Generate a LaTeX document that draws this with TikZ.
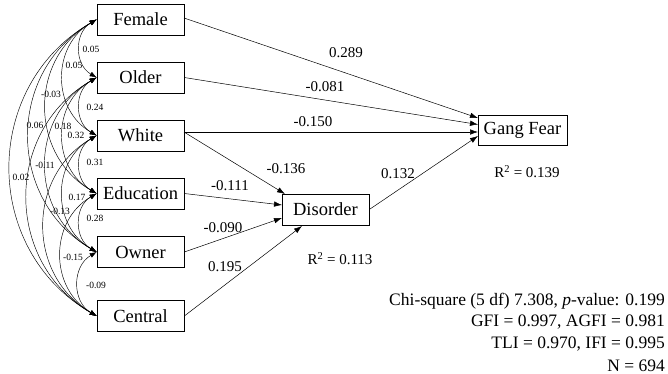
\documentclass[tikz,border=0pt]{standalone}
\usepackage{fontspec}
\setmainfont{Liberation Serif}
\usetikzlibrary{arrows.meta}
\begin{document}
\begin{tikzpicture}[x=1pt,y=-1pt,
  var/.style={draw, line width=0.6pt, minimum width=87pt, minimum height=31pt,
    inner sep=0pt, font=\fontsize{18.5}{20}\selectfont},
  effect/.style={-{Latex[length=8pt,width=5.5pt]}, line width=0.5pt},
  cov/.style={{Latex[length=7pt,width=5pt]}-{Latex[length=7pt,width=5pt]},
    line width=0.45pt, bend right=60, looseness=1.15},
  coef/.style={font=\fontsize{15}{17}\selectfont, inner sep=0pt},
  corr/.style={font=\fontsize{9.5}{11}\selectfont, inner sep=0pt},
  fit/.style={font=\fontsize{17.5}{20}\selectfont, inner sep=0pt, anchor=east}]
\useasboundingbox (0,0) rectangle (668,374);

% exogenous variables
\node[var] (fem) at (140.5,19.5) {Female};
\node[var] (old) at (140.5,77.5) {Older};
\node[var] (wht) at (140.5,135.5) {White};
\node[var] (edu) at (140.5,193.5) {Education};
\node[var] (own) at (140.5,252) {Owner};
\node[var] (cen) at (140.5,316) {Central};

% endogenous variables
\node[var] (dis) at (325.5,209.5) {Disorder};
\node[var, minimum width=89pt, minimum height=30pt] (gf) at (522.5,130) {Gang Fear};

% departure / arrival points on box edges
\coordinate (fem0) at (184,18);
\coordinate (wht0) at (184,132);
\coordinate (gf1) at (478,118);
\coordinate (gf2) at (478,124.5);
\coordinate (gf3) at (478,132);
\coordinate (gf4) at (478,136);
\coordinate (d1) at (285,194);
\coordinate (d2) at (282,205);
\coordinate (d3) at (282,218);
\coordinate (d4) at (302,226);

% structural paths
\draw[effect] (fem0) -- (gf1);
\draw[effect] (old.east) -- (gf2);
\draw[effect] (wht0) -- (gf3);
\draw[effect] (dis.east) -- (gf4);
\draw[effect] (wht0) -- (d1);
\draw[effect] (edu.east) -- (d2);
\draw[effect] (own.east) -- (d3);
\draw[effect] (cen.east) -- (d4);

\node[coef] (c1) at (346,53) {0.289};
\node[coef] (c2) at (325,87) {-0.081};
\node[coef] (c3) at (313,122) {-0.150};
\node[coef] (c4) at (286,169) {-0.136};
\node[coef] (c5) at (398,174) {0.132};
\node[coef] (c6) at (230,186) {-0.111};
\node[coef] (c7) at (223,228) {-0.090};
\node[coef] (c8) at (225,267) {0.195};
\node[coef] (r1) at (340,259) {R\textsuperscript{2} = 0.113};
\node[coef] (r2) at (527,172) {R\textsuperscript{2} = 0.139};

% correlations among the exogenous variables
\foreach \a/\b in {fem/old,old/wht,wht/edu,edu/own,own/cen,
                   fem/wht,old/edu,wht/own,edu/cen,
                   fem/edu,old/own,wht/cen,
                   fem/own,old/cen,fem/cen}
  \draw[cov] (\a.west) to (\b.west);

\node[corr] at (91,49) {0.05};
\node[corr] at (95,107) {0.24};
\node[corr] at (95,162) {0.31};
\node[corr] at (95,218) {0.28};
\node[corr] at (96,285) {-0.09};
\node[corr] at (74,65) {0.05};
\node[corr] at (76,135) {0.32};
\node[corr] at (77,197) {0.17};
\node[corr] at (73,257) {-0.15};
\node[corr] at (51,94) {-0.03};
\node[corr] at (63,126) {0.18};
\node[corr] at (60,211) {-0.13};
\node[corr] at (35,125) {0.06};
\node[corr] at (45,165) {-0.11};
\node[corr] at (21,177) {0.02};

% fit statistics
\node[fit] (f1) at (665,301) {Chi-square (5 df) 7.308, \textit{p}-value: 0.199};
\node[fit] (f2) at (665,322) {GFI = 0.997, AGFI = 0.981};
\node[fit] (f3) at (665,344) {TLI = 0.970, IFI = 0.995};
\node[fit] (f4) at (665,366) {N = 694};
\end{tikzpicture}
\end{document}
